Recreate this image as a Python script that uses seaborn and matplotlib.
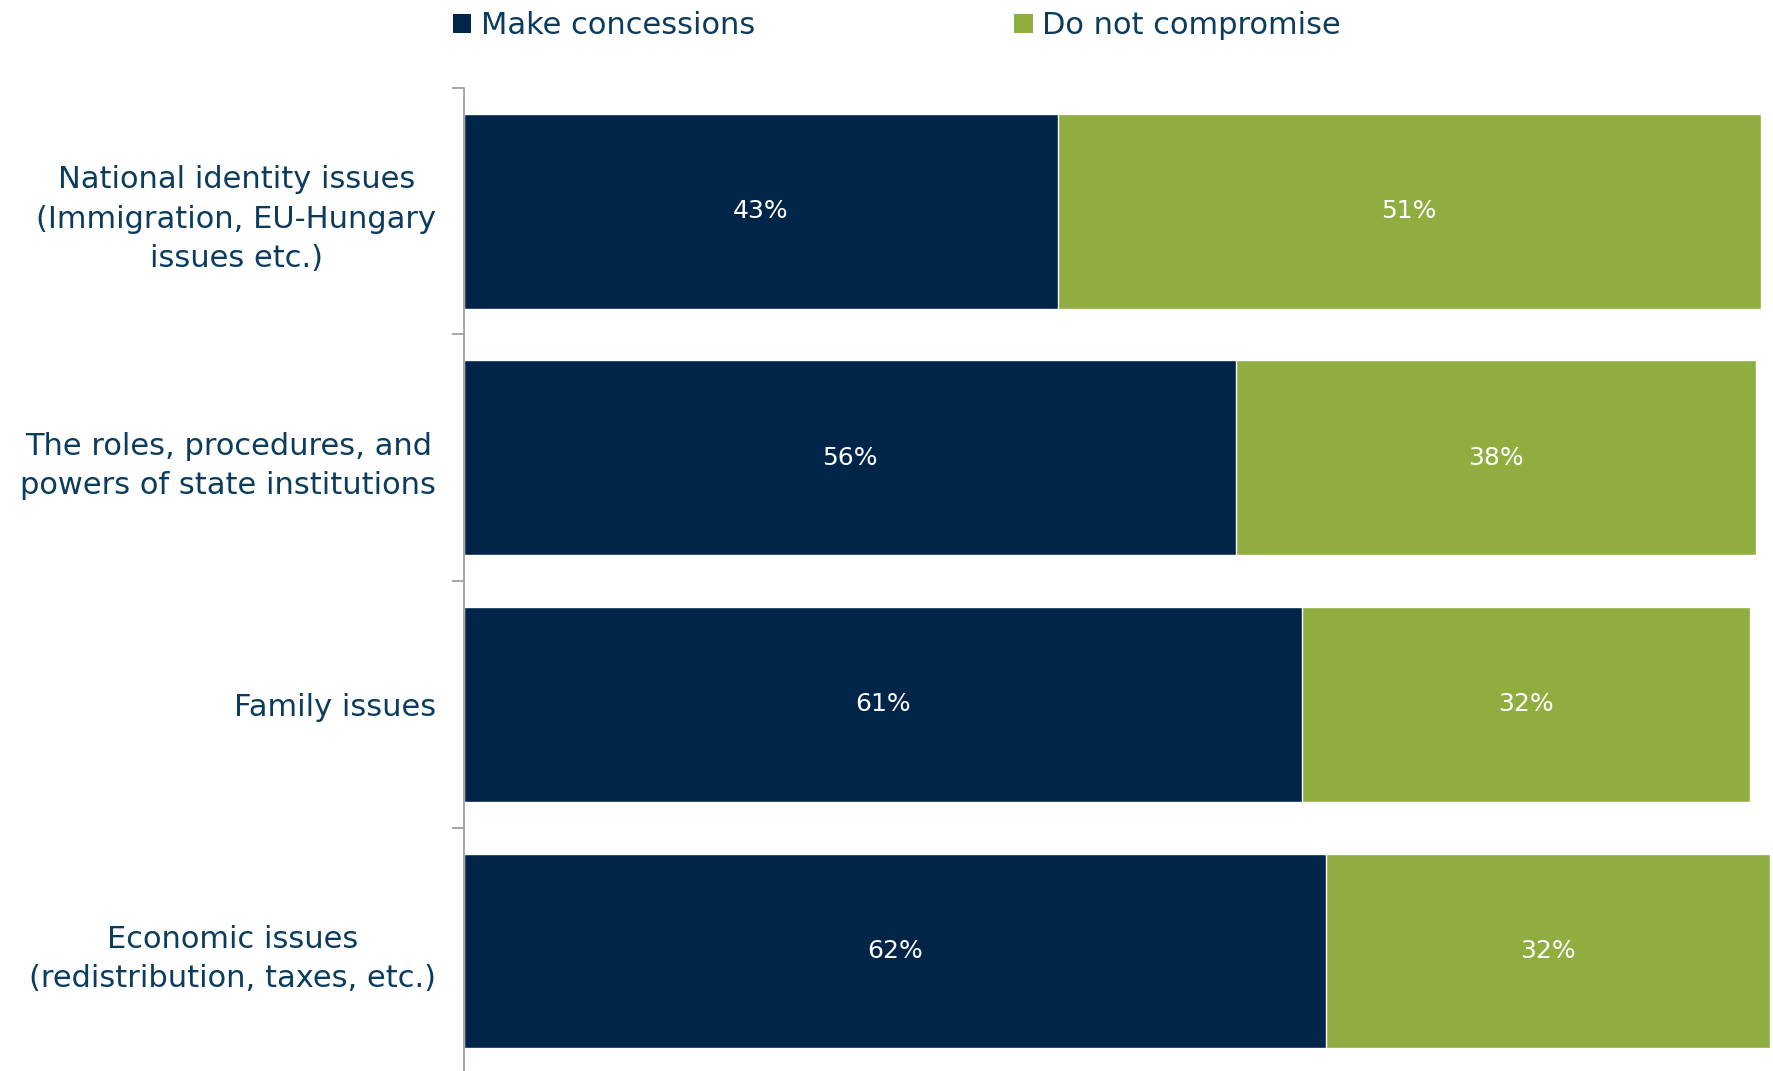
import numpy as np
import pandas as pd
import matplotlib
matplotlib.use("Agg")
import matplotlib.pyplot as plt
import seaborn as sns
from matplotlib.patches import Patch

# data
issues = [
    "National identity issues\n(Immigration, EU-Hungary\nissues etc.)",
    "The roles, procedures, and\npowers of state institutions",
    "Family issues",
    "Economic issues\n(redistribution, taxes, etc.)",
]
concessions = [43.0, 55.9, 60.7, 62.4]
no_compromise = [50.9, 37.7, 32.4, 32.2]
series_names = ["Make concessions", "Do not compromise"]

dark = "#012549"
green = "#90AE40"
text_col = "#0B3C5D"

sns.set_style("white")
plt.rcParams["font.family"] = ["DejaVu Sans"]

data = pd.DataFrame({"issue": issues, "conc": concessions, "nocomp": no_compromise})
data["total"] = data["conc"] + data["nocomp"]

fig = plt.figure(figsize=(17.73, 10.71), dpi=100)
ax = fig.add_axes([0.2617, -0.003, 0.7383, 0.921])

# stacked bars: total first (green), concessions on top (dark)
sns.barplot(data=data, y="issue", x="total", color=green, width=0.79,
            saturation=1, ax=ax, orient="h")
sns.barplot(data=data, y="issue", x="conc", color=dark, width=0.79,
            saturation=1, ax=ax, orient="h")

ax.set_xlim(0, 94.8)
ax.set_ylim(3.5, -0.5)
ax.set_xlabel("")
ax.set_ylabel("")
ax.set_xticks([])

# value labels
lab_font = dict(color="white", fontsize=18, ha="center", va="center")
for i, row in data.iterrows():
    ax.text(row["conc"] / 2, i, f"{row['conc']:.0f}%", **lab_font)
    ax.text(row["conc"] + row["nocomp"] / 2, i, f"{row['nocomp']:.0f}%", **lab_font)

# axis styling
for side in ["top", "right", "bottom"]:
    ax.spines[side].set_visible(False)
ax.spines["left"].set_color("#9a9a9a")
ax.spines["left"].set_linewidth(1.2)
ax.tick_params(axis="y", which="major", left=True, length=0, pad=20,
               labelsize=22, labelcolor=text_col)
ax.set_yticks(np.arange(-0.5, 3.5, 1), minor=True)
ax.tick_params(axis="y", which="minor", left=True, length=9, width=1.2,
               color="#9a9a9a")
for t in ax.get_yticklabels():
    t.set_multialignment("center")
    t.set_linespacing(1.45)

# legend at top
handles = [Patch(facecolor=dark, edgecolor="none"),
           Patch(facecolor=green, edgecolor="none")]
fig.legend(handles, series_names, loc="upper left", bbox_to_anchor=(0.240, 1.015),
           ncol=2, frameon=False, fontsize=22, labelcolor=text_col,
           handlelength=0.6, handleheight=0.6, handletextpad=0.3,
           columnspacing=8.5)

fig.savefig("out.png", dpi=100)
